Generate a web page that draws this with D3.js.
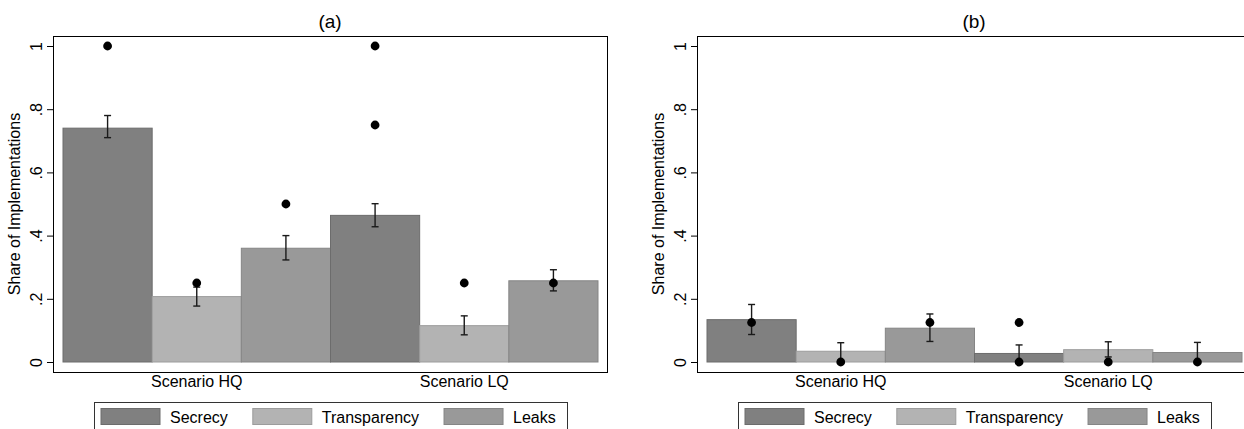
<!DOCTYPE html>
<html>
<head>
<meta charset="utf-8">
<script src="https://cdn.jsdelivr.net/npm/d3@7"></script>
<style>
  body { margin: 0; background: #fff; }
  svg { display: block; font-family: "Liberation Sans", Arial, sans-serif; }
</style>
</head>
<body>
<div id="chart"></div>
<script>
// data
const categories = ["Scenario HQ", "Scenario LQ"];
const series = ["Secrecy", "Transparency", "Leaks"];
const yTicks = [0, 0.2, 0.4, 0.6, 0.8, 1];
const yTickLabels = ["0", ".2", ".4", ".6", ".8", "1"];

// panel (a)
const meansA = { Secrecy: [0.74, 0.464], Transparency: [0.207, 0.115], Leaks: [0.36, 0.257] };
const lowA   = { Secrecy: [0.71, 0.428], Transparency: [0.177, 0.086], Leaks: [0.323, 0.225] };
const highA  = { Secrecy: [0.78, 0.501], Transparency: [0.237, 0.146], Leaks: [0.40, 0.292] };
const dotsA  = { Secrecy: [[1], [1, 0.75]], Transparency: [[0.25], [0.25]], Leaks: [[0.5], [0.25]] };

// panel (b)
const meansB = { Secrecy: [0.134, 0.027], Transparency: [0.034, 0.039], Leaks: [0.107, 0.03] };
const lowB   = { Secrecy: [0.087, 0.0], Transparency: [0.006, 0.016], Leaks: [0.065, 0.0] };
const highB  = { Secrecy: [0.182, 0.054], Transparency: [0.061, 0.064], Leaks: [0.152, 0.062] };
const dotsB  = { Secrecy: [[0.125], [0.125, 0]], Transparency: [[0], [0]], Leaks: [[0.125], [0]] };

const fills   = { Secrecy: "#808080", Transparency: "#b3b3b3", Leaks: "#999999" };
const strokes = { Secrecy: "#6c6c6c", Transparency: "#9c9c9c", Leaks: "#858585" };

const panels = [
  { title: "(a)", left: 53, means: meansA, low: lowA, high: highA, dots: dotsA },
  { title: "(b)", left: 697, means: meansB, low: lowB, high: highB, dots: dotsB }
];

const W = 1244, H = 429;
const fw = 554, fh = 336, topY = 36;

const svg = d3.select("#chart").append("svg")
  .attr("width", W)
  .attr("height", H);

const y = d3.scaleLinear().domain([0, 1]).range([326, 10]);
const x0 = d3.scaleBand().domain(categories).range([10, fw - 9]).padding(0);
const x1 = d3.scaleBand().domain(series).range([0, x0.bandwidth()]).padding(0);

panels.forEach(p => {
  const g = svg.append("g").attr("transform", `translate(${p.left},${topY})`);

  g.append("rect")
    .attr("x", 0.5).attr("y", 0.5)
    .attr("width", fw).attr("height", fh)
    .attr("fill", "none")
    .attr("stroke", "#000")
    .attr("stroke-width", 1);

  // y axis, rotated labels like stata
  const ax = g.append("g")
    .call(d3.axisLeft(y).tickValues(yTicks).tickSize(6)
      .tickFormat(d => yTickLabels[yTicks.indexOf(d)]));
  ax.select(".domain").remove();
  ax.selectAll(".tick line").attr("stroke", "#000");
  ax.selectAll(".tick text")
    .attr("transform", "rotate(-90)")
    .attr("x", 0).attr("y", -11.5).attr("dy", 0)
    .attr("text-anchor", "middle")
    .attr("fill", "#000")
    .style("font-size", "16px")
    .style("font-family", "'Liberation Sans', Arial, sans-serif");

  g.append("text")
    .attr("transform", `translate(-33,${(y(0) + y(1)) / 2}) rotate(-90)`)
    .attr("text-anchor", "middle")
    .style("font-size", "16px")
    .text("Share of Implementations");

  g.append("text")
    .attr("x", fw / 2).attr("y", -8)
    .attr("text-anchor", "middle")
    .style("font-size", "19px")
    .text(p.title);

  // bars
  categories.forEach((c, ci) => {
    const gg = g.append("g").attr("transform", `translate(${x0(c)},0)`);
    series.forEach(s => {
      const bx = x1(s), bw = x1.bandwidth(), cx = bx + bw / 2;
      gg.append("rect")
        .attr("x", bx).attr("width", bw)
        .attr("y", y(p.means[s][ci]))
        .attr("height", y(0) - y(p.means[s][ci]))
        .attr("fill", fills[s])
        .attr("stroke", strokes[s])
        .attr("stroke-width", 1);

      const lo = y(p.low[s][ci]), hi = y(p.high[s][ci]);
      gg.append("line").attr("x1", cx).attr("x2", cx).attr("y1", lo).attr("y2", hi)
        .attr("stroke", "#1a1a1a").attr("stroke-width", 1.4);
      [lo, hi].forEach(v => {
        gg.append("line").attr("x1", cx - 3.5).attr("x2", cx + 3.5).attr("y1", v).attr("y2", v)
          .attr("stroke", "#1a1a1a").attr("stroke-width", 1.4);
      });

      gg.selectAll(null)
        .data(p.dots[s][ci])
        .enter()
        .append("circle")
        .attr("cx", cx)
        .attr("cy", d => y(d))
        .attr("r", 4.4)
        .attr("fill", "#000");
    });

    g.append("text")
      .attr("x", x0(c) + x0.bandwidth() / 2)
      .attr("y", 350.5)
      .attr("text-anchor", "middle")
      .style("font-size", "16px")
      .text(c);
  });

  // legend
  const lg = g.append("g").attr("transform", "translate(41,366)");
  lg.append("rect")
    .attr("x", 0.5).attr("y", 0.5)
    .attr("width", 473).attr("height", 60)
    .attr("fill", "#fff")
    .attr("stroke", "#333");
  let lx = 7;
  series.forEach(s => {
    lg.append("rect")
      .attr("x", lx).attr("y", 6.5)
      .attr("width", 59).attr("height", 16)
      .attr("fill", fills[s])
      .attr("stroke", strokes[s]);
    const t = lg.append("text")
      .attr("x", lx + 69).attr("y", 20.5)
      .style("font-size", "16px")
      .text(s);
    lx += 69 + t.node().getComputedTextLength() + 25;
  });
});
</script>
</body>
</html>
